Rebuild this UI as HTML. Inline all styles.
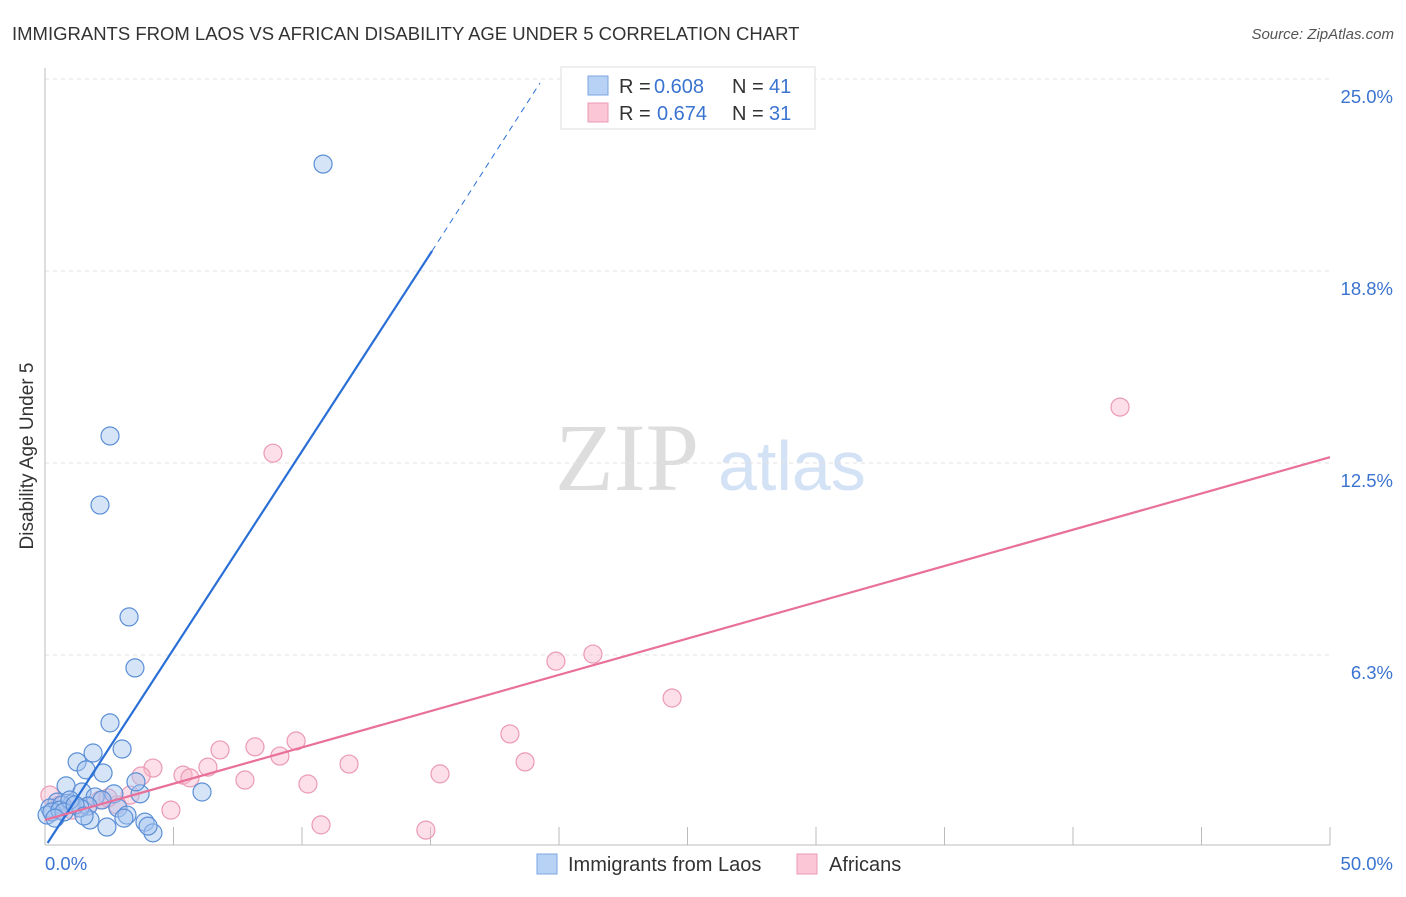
<!DOCTYPE html>
<html><head><meta charset="utf-8"><style>
body{margin:0;background:#fff;font-family:"Liberation Sans",sans-serif}
</style></head><body>
<svg id="c" width="1406" height="892" xmlns="http://www.w3.org/2000/svg">
<text x="12" y="40" font-size="18.5" fill="#333">IMMIGRANTS FROM LAOS VS AFRICAN DISABILITY AGE UNDER 5 CORRELATION CHART</text>
<text x="1394" y="39" font-size="15" font-style="italic" fill="#555" text-anchor="end">Source: ZipAtlas.com</text>
<g>
<text x="555" y="490" font-family="Liberation Serif,serif" font-size="96" fill="#ddd">ZIP</text>
<text x="718" y="490" font-size="70" fill="#d4e2f5">atlas</text>
</g>
<g id="grid"></g>
<line x1="45" y1="68" x2="45" y2="845" stroke="#bbb"/>
<line x1="45" y1="845" x2="1330" y2="845" stroke="#bbb"/>
<text transform="translate(33,456) rotate(-90)" font-size="19" fill="#333" text-anchor="middle">Disability Age Under 5</text>
<text x="45" y="870" font-size="18.5" fill="#3b74d0">0.0%</text>
<text x="1393" y="870" font-size="18.5" fill="#3b74d0" text-anchor="end">50.0%</text>
<g id="pts"></g>
<g id="lines"></g>
<g>
<rect x="561" y="67" width="254" height="62" fill="#fff" stroke="#ddd"/>
<rect x="588" y="76" width="20" height="19" fill="#b8d2f5" stroke="#7aa6e0"/>
<rect x="588" y="103" width="20" height="19" fill="#fbc7d6" stroke="#eb9ab4"/>
<text x="619" y="93" font-size="20" fill="#333">R =</text>
<text x="654" y="93" font-size="20" fill="#3b74d0">0.608</text>
<text x="732" y="93" font-size="20" fill="#333">N =</text>
<text x="769" y="93" font-size="20" fill="#3b74d0">41</text>
<text x="619" y="120" font-size="20" fill="#333">R =</text>
<text x="657" y="120" font-size="20" fill="#3b74d0">0.674</text>
<text x="732" y="120" font-size="20" fill="#333">N =</text>
<text x="769" y="120" font-size="20" fill="#3b74d0">31</text>
</g>
<g>
<rect x="537" y="854" width="20" height="20" fill="#b8d2f5" stroke="#7aa6e0"/>
<text x="568" y="871" font-size="20" fill="#333">Immigrants from Laos</text>
<rect x="797" y="854" width="20" height="20" fill="#fbc7d6" stroke="#eb9ab4"/>
<text x="829" y="871" font-size="20" fill="#333">Africans</text>
</g>
</svg>
<script>
const yTicks=[6.25,12.5,18.75,25];
const yTickLabels=["6.3%","12.5%","18.8%","25.0%"];
const xTicks=[0,5,10,15,20,25,30,35,40,45,50];
const laosX=[10.82,2.53,2.14,3.27,3.50,2.53,3.00,1.87,1.25,1.60,2.26,0.82,1.44,2.68,3.70,3.54,6.11,1.95,0.47,1.05,0.19,2.22,2.84,1.67,0.66,3.19,1.75,3.89,2.41,3.07,4.20,4.01,0.08,0.27,0.58,1.36,0.97,0.74,0.39,1.17,1.52];
const laosY=[22.23,13.38,11.13,7.49,5.83,4.04,3.19,3.06,2.77,2.51,2.41,1.99,1.79,1.73,1.73,2.12,1.79,1.63,1.46,1.40,1.27,1.53,1.27,1.33,1.37,1.04,0.88,0.81,0.65,0.94,0.46,0.68,1.04,1.14,1.20,1.27,1.53,1.14,0.94,1.37,1.01];
const afrX=[41.83,8.87,21.32,19.88,24.40,18.09,9.77,6.81,8.17,9.14,11.83,18.68,6.34,4.20,5.37,5.64,15.37,3.74,7.78,10.23,3.31,2.14,2.80,4.90,10.74,14.82,0.19,1.05,0.58,1.67,2.45];
const afrY=[14.32,12.82,6.28,6.05,4.85,3.68,3.45,3.16,3.26,2.96,2.70,2.77,2.60,2.57,2.34,2.25,2.38,2.31,2.18,2.05,1.69,1.53,1.37,1.20,0.72,0.55,1.69,1.20,1.37,1.33,1.60];
const laosLine=[0.1,0.13,15.06,19.4,19.26,24.87];
const afrLine=[0,0.88,50,12.69];
const NS="http://www.w3.org/2000/svg";
const sx=v=>45+v/50*1285, sy=v=>847-v/25*768;
function mk(tag,attrs,parent){const e=document.createElementNS(NS,tag);for(const k in attrs)e.setAttribute(k,attrs[k]);parent.appendChild(e);return e;}
const grid=document.getElementById('grid');
yTicks.forEach((t,i)=>{
 const l=mk('line',{x1:45,x2:1330,y1:sy(t),y2:sy(t),stroke:'#e2e2e2','stroke-dasharray':'4,4'},grid);
 
 
 const tx=mk('text',{x:1393,y:sy(t)+24,'font-size':18.5,fill:'#3b74d0','text-anchor':'end'},grid);
 tx.textContent=yTickLabels[i];
 
 
});
xTicks.forEach(t=>{
 if(t===0)return;
 const l=mk('line',{x1:sx(t),x2:sx(t),y1:827,y2:845,stroke:'#bbb'},grid);
 
 
});
const pts=document.getElementById('pts');
afrX.forEach((x,i)=>{
 const c=mk('circle',{cx:sx(x),cy:sy(afrY[i]),r:9,fill:'rgba(248,184,204,0.45)',stroke:'#eb9ab4','stroke-width':1.2},pts);
 
 
});
laosX.forEach((x,i)=>{
 const c=mk('circle',{cx:sx(x),cy:sy(laosY[i]),r:9,fill:'rgba(164,196,240,0.45)',stroke:'#5b8fd6','stroke-width':1.2},pts);
 
 
});
const lines=document.getElementById('lines');
let a=mk('line',{x1:sx(laosLine[0]),y1:sy(laosLine[1]),x2:sx(laosLine[2]),y2:sy(laosLine[3]),stroke:'#2a6fd6','stroke-width':2.2},lines);


let b=mk('line',{x1:sx(laosLine[2]),y1:sy(laosLine[3]),x2:sx(laosLine[4]),y2:sy(laosLine[5]),stroke:'#2a6fd6','stroke-width':1,'stroke-dasharray':'6,5'},lines);


let p=mk('line',{x1:sx(afrLine[0]),y1:sy(afrLine[1]),x2:sx(afrLine[2]),y2:sy(afrLine[3]),stroke:'#e8709a','stroke-width':2.2},lines);


</script>
</body></html>
